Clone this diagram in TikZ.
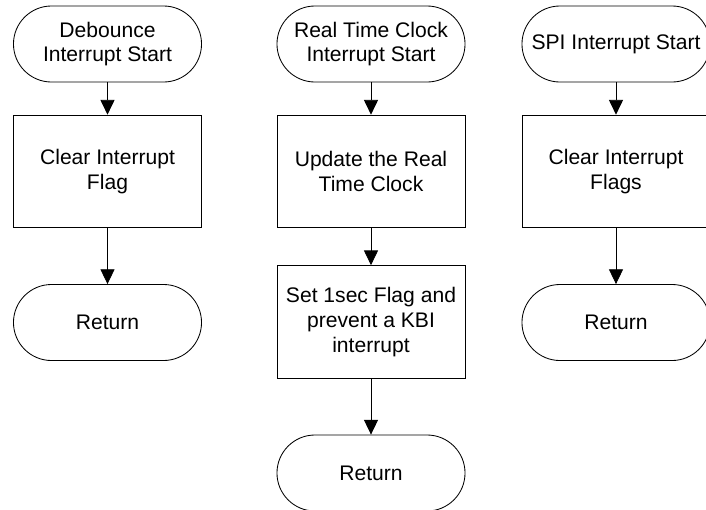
\documentclass[tikz,border=0pt]{standalone}
\usepackage{fontspec}
\setmainfont{Liberation Sans}
\usetikzlibrary{arrows.meta}

\begin{document}
\begin{tikzpicture}[x=0.025cm, y=-0.025cm, line width=0.6pt,
    >={Triangle[length=10.5pt, width=10pt]},
    every node/.style={align=center, font=\fontsize{15}{17.5}\selectfont},
    term/.style={draw, rounded corners=0.95cm, minimum width=4.7cm, minimum height=1.9cm},
    proc/.style={draw, minimum width=4.7cm, minimum height=2.82cm}]
      \useasboundingbox (0,0) rectangle (706,509);

      \node[term] (A) at (107.5,44) {Debounce\\Interrupt Start};
      \node[proc] (B) at (107.5,171.5) {Clear Interrupt\\Flag};
      \node[term] (C) at (107.5,322.5) {Return};

      \node[term] (D) at (371,44) {Real Time Clock\\Interrupt Start};
      \node[proc] (E) at (371,171.5) {Update the Real\\Time Clock};
      \node[proc] (F) at (371,322) {Set 1sec Flag and\\prevent a KBI\\interrupt};
      \node[term] (G) at (371,473) {Return};

      \node[term] (H) at (616,44) {SPI Interrupt Start};
      \node[proc] (I) at (616,171.5) {Clear Interrupt\\Flags};
      \node[term] (J) at (616,322.5) {Return};

      \draw[->] (A) -- (B);
      \draw[->] (B) -- (C);
      \draw[->] (D) -- (E);
      \draw[->] (E) -- (F);
      \draw[->] (F) -- (G);
      \draw[->] (H) -- (I);
      \draw[->] (I) -- (J);

    \end{tikzpicture}
\end{document}
